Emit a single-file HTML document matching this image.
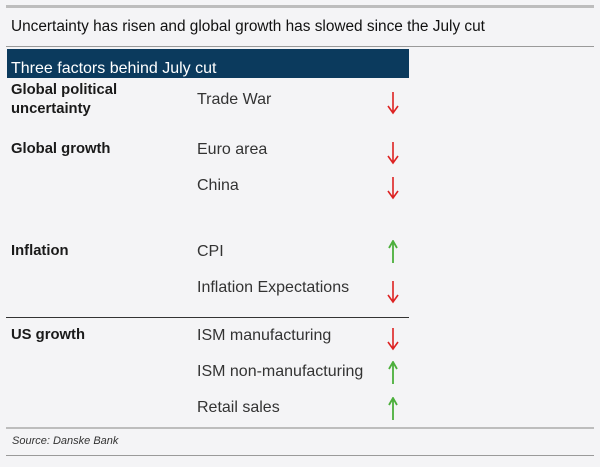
<!DOCTYPE html>
<html><head><meta charset="utf-8"><style>
body{margin:0;width:600px;height:467px;background:#f4f4f6;font-family:"Liberation Sans",sans-serif;color:#222;position:relative;overflow:hidden}
.a{position:absolute;white-space:nowrap}
.t{font-size:16px;color:#333}
.b{font-weight:bold;font-size:14.8px;color:#1a1a1a}
.ln{position:absolute}
</style></head><body>
<div class="ln" style="left:6px;top:5px;width:588px;height:3px;background:#bdbdbd"></div>
<div class="a" style="left:11px;top:18px;font-size:15.4px;color:#111">Uncertainty has risen and global growth has slowed since the July cut</div>
<div class="ln" style="left:6px;top:46px;width:588px;height:1px;background:#9a9a9a"></div>
<div class="ln" style="left:7px;top:49px;width:402px;height:29px;background:#0b3a5d"></div>
<div class="a" style="left:11px;top:60px;font-size:16px;color:#fff">Three factors behind July cut</div>

<div class="a b" style="left:11px;top:81px;line-height:19px">Global political<br>uncertainty</div>
<div class="a t" style="left:197px;top:91px">Trade War</div>
<svg class="a" style="left:387px;top:91px" width="12" height="24"><path d="M6 1V21M1 15L6 22L11 15" stroke="#d22" stroke-width="1.6" fill="none"/></svg>

<div class="a b" style="left:11px;top:141px">Global growth</div>
<div class="a t" style="left:197px;top:141px">Euro area</div>
<svg class="a" style="left:387px;top:141px" width="12" height="24"><path d="M6 1V21M1 15L6 22L11 15" stroke="#d22" stroke-width="1.6" fill="none"/></svg>
<div class="a t" style="left:197px;top:177px">China</div>
<svg class="a" style="left:387px;top:176px" width="12" height="24"><path d="M6 1V21M1 15L6 22L11 15" stroke="#d22" stroke-width="1.6" fill="none"/></svg>

<div class="a b" style="left:11px;top:243px">Inflation</div>
<div class="a t" style="left:197px;top:243px">CPI</div>
<svg class="a" style="left:387px;top:240px" width="12" height="24"><path d="M6 23V3M2 8L6 1L10 8" stroke="#4caf3c" stroke-width="1.8" fill="none"/></svg>
<div class="a t" style="left:197px;top:279px">Inflation Expectations</div>
<svg class="a" style="left:387px;top:280px" width="12" height="24"><path d="M6 1V21M1 15L6 22L11 15" stroke="#d22" stroke-width="1.6" fill="none"/></svg>

<div class="ln" style="left:6px;top:317px;width:403px;height:1px;background:#333"></div>

<div class="a b" style="left:11px;top:327px">US growth</div>
<div class="a t" style="left:197px;top:327px">ISM manufacturing</div>
<svg class="a" style="left:387px;top:327px" width="12" height="24"><path d="M6 1V21M1 15L6 22L11 15" stroke="#d22" stroke-width="1.6" fill="none"/></svg>
<div class="a t" style="left:197px;top:363px">ISM non-manufacturing</div>
<svg class="a" style="left:387px;top:361px" width="12" height="24"><path d="M6 23V3M2 8L6 1L10 8" stroke="#4caf3c" stroke-width="1.8" fill="none"/></svg>
<div class="a t" style="left:197px;top:399px">Retail sales</div>
<svg class="a" style="left:387px;top:397px" width="12" height="24"><path d="M6 23V3M2 8L6 1L10 8" stroke="#4caf3c" stroke-width="1.8" fill="none"/></svg>

<div class="ln" style="left:6px;top:427px;width:588px;height:2px;background:#bdbdbd"></div>
<div class="a" style="left:12px;top:435px;font-size:11px;font-style:italic;color:#333">Source: Danske Bank</div>
<div class="ln" style="left:6px;top:455px;width:588px;height:1px;background:#9a9a9a"></div>
</body></html>
